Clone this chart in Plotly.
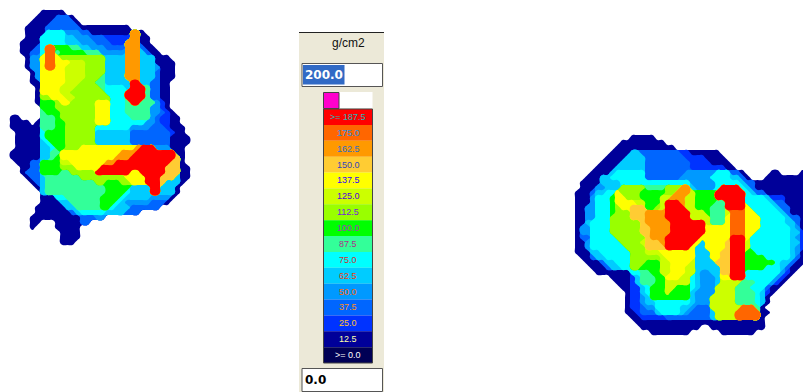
import numpy as np
import plotly.graph_objects as go

BAND_LABELS = [">= 187.5","175.0","162.5","150.0","137.5","125.0","112.5","100.0","87.5","75.0","62.5","50.0","37.5","25.0","12.5",">= 0.0"]
BAND_COLORS = ["#FF0000","#FF6600","#FF9900","#FFCC33","#FFFF00","#CCFF00","#99FF00","#00FF00","#33FF99","#00FFFF","#00CCFF","#0099FF","#0066FF","#0033FF","#000099","#000055"]
LABEL_COLORS = ["#22B8B8","#1E90E0","#2F6FC8","#3344BB","#3300FF","#5500DD","#7722DD","#AA33BB","#AA3388","#CC3333","#F04010","#FF6600","#FF8C22","#FFC030","#FFFFAA","#FFFFFF"]

# Each row: runs of sensor cells "first-last:band"; band 1 = 12.5 ... 15 = >=187.5, unlisted = no reading
LEFT_ROWS = [
"", "",
"8-12:1",
"7-10:1 11-13:3 14:1",
"6-9:1 10-14:3 15:1",
"5-8:1 9-15:3 16-25:1",
"5-8:1 9-12:6 13-15:4 16-17:3 18-25:1 26-27:13 28:1",
"5-7:1 8-12:6 13-14:5 15-17:4 18-20:3 21-25:2 26-27:13 28-29:1",
"4-7:1 8-12:6 13-15:5 16-18:4 19-21:3 22-24:2 25-27:13 28-29:1",
"4-6:1 7:3 8:6 9-10:14 11-13:8 14-15:7 16-17:5 18-20:4 21-24:3 25-27:13 28:3 29-30:1",
"4-5:1 6-7:3 8:6 9-10:14 11:7 12-16:8 17-19:7 20-24:4 25-27:13 28:5 29:3 30-31:1",
"5:1 6-7:4 8:11 9-10:14 11:11 12-20:9 21-24:5 25-27:13 28-30:5 31-33:1",
"5:1 6-7:4 8:11 9-10:14 11-13:11 14-16:10 17-20:9 21-24:5 25-27:13 28-30:5 31-34:1",
"5:1 6-7:4 8:11 9-10:14 11-12:11 13-16:10 17-20:9 21-24:5 25-27:13 28-30:5 31:4 32-34:1",
"6:1 7:4 8-12:11 13-16:10 17-20:9 21-24:5 25-27:13 28-30:5 31:3 32-34:1",
"6:1 7:4 8-12:11 13-16:10 17-19:9 20:7 21-24:5 25-27:13 28-30:5 31:3 32-34:1",
"6-7:1 8-12:11 13-15:10 16-18:9 19-20:7 21-24:5 25:5 26-27:15 28-29:5 30-31:3 32-33:1",
"7:1 8-11:11 12-14:10 15-19:9 20:7 21-24:6 25:5 26-28:15 29:7 30-31:3 32-33:1",
"7:1 8-11:11 12-13:10 14-20:9 21-24:6 25-28:15 29:7 30-31:3 32-33:1",
"7:1 8-9:9 10-12:11 13-14:10 15-21:9 22-24:6 25-28:15 29:7 30-31:3 32-33:1",
"7:1 8-10:8 11:9 12-13:11 14-18:9 19-21:11 22-24:6 25:7 26-27:15 28-30:7 31:4 32:2 33:1",
"8-10:8 11-18:9 19-21:11 22-24:6 25-29:7 30-31:4 32:2 33:1",
"8:7 9-11:8 12-18:9 19-21:11 22-24:6 25-29:7 30-31:4 32:3 33:2 34:1",
"2-3:1 8-10:7 11:8 12-18:9 19-21:11 22-25:6 26-29:7 30:4 31:3 32-33:2 34-35:1",
"2-5:1 7:1 8-10:7 11-12:8 13-18:9 19-21:11 22-28:6 29-30:4 31:3 32-33:2 34-35:1",
"2-7:1 8-10:7 11-12:8 13-18:9 19-25:6 26-29:4 30-32:3 33:2 34-36:1",
"3-7:1 8:6 9-12:8 13-18:9 19-25:5 26-33:3 34:2 35-36:1",
"3-7:1 8:6 9-12:8 13-18:9 19-25:5 26-33:3 34-37:1",
"3-7:1 8:5 9:6 10-12:8 13-18:9 19-25:5 26-33:3 34-37:1",
"3-7:1 8-9:5 10:6 11-12:8 13-15:9 16-26:11 27:13 28-30:15 31-33:4 34-36:1",
"2-7:1 8-9:5 10-11:7 12-23:11 24-26:13 27-34:15 35-36:1",
"2-7:1 8-9:5 10:7 11:8 12-22:11 23-25:13 26-34:15 35:12 36:1",
"3-5:1 6-7:3 8-11:8 12-13:10 14-20:11 21-22:13 23-33:15 34-35:12 36:1",
"4-5:1 6-7:3 8-11:8 12-14:9 15-19:11 20-32:15 33-35:12 36-37:1",
"4:1 5-7:3 8-11:8 12-13:7 14-18:9 19-25:15 26-27:11 28-32:15 33-35:12 36-37:1",
"5:1 6-7:3 8:5 9-15:7 16-24:9 25-28:11 29-31:15 32-34:12 35:5 36-37:1",
"6:1 7:3 8:5 9-18:7 19-20:9 21-23:8 24-25:9 26-28:11 29-31:15 32:12 33-35:5 36:1",
"7:1 8:5 9-20:7 21-25:8 26-29:5 30-31:15 32-34:5 35:1",
"8:5 9-20:7 21-24:8 25:6 26-29:5 30-31:15 32-34:5 35:1",
"8-10:1 11-12:6 13-19:7 20-23:8 24:6 25-29:5 30-33:4 34:1",
"8-11:1 12-13:5 14-19:7 20-22:8 23:6 24:5 25-29:4 30-32:3 33:1",
"7-12:1 13-14:5 15-19:7 20-21:8 22:6 23-25:5 26-31:3",
"7-13:1 14:3 15:5 16-20:6 21-24:5 25-27:3",
"6-15:1 16-18:3 19-20:4",
"6-7:1 11-15:1 16-17:3",
"6:1 11-15:1",
"12-15:1", "12-15:1", "12-14:1", "",
]
RIGHT_ROWS = [
"",
"13-17:1",
"11-19:1",
"10-21:1",
"9-12:1 13-14:5 15-22:3 23-24:2 25-30:1",
"8-11:1 12-15:5 16-23:3 24-27:2 28-31:1",
"7-10:1 11-15:5 16-24:3 25-28:2 29-32:1",
"6-9:1 10-15:5 16-24:3 25-31:2 32-33:1",
"5-8:1 9:5 10-15:6 16-23:3 24-29:4 30-32:6 33-34:3 35:1 41-42:1 47:1",
"4-6:1 7-8:5 9-15:6 16-22:3 23-28:4 29-32:6 33-34:5 35:3 36:1 40-44:1 45-47:1",
"3-6:1 7-10:5 11-24:6 25-29:4 30-34:6 35:5 36-37:3 38-47:1",
"3-5:1 6-7:4 8-10:5 11-15:9 16-19:7 20-22:9 23-24:13 25:5 26-29:4 30:6 31-34:15 35:6 36:5 37:3 38-47:1",
"2-4:1 5:3 6-7:5 8-9:6 10:11 11-14:9 15-19:8 20-21:9 22-24:13 25:10 26-29:8 30-35:15 36:6 37:5 38-39:3 40-47:1",
"2-4:1 5:4 6-8:6 9:8 10-11:11 12-14:9 15-18:8 19-20:10 21-23:13 24-25:10 26-29:8 30-35:15 36-39:6 40:5 41-43:2 44-47:1",
"2-4:1 5:4 6-8:6 9:8 10-13:11 14-15:10 16-18:8 19:10 20-22:15 23:13 24-25:10 26-29:8 30-31:7 32-35:15 36-40:6 41:5 42-43:3 44-47:1",
"2-3:1 4-5:4 6-8:6 9:8 10:9 11-12:11 13-15:12 16-17:8 18:9 19:10 20-23:15 24-25:10 26-28:8 29-31:7 32-35:15 36:11 37-41:6 42:5 43-44:3 45-47:1",
"2-3:1 4-5:4 6-8:6 9:8 10-12:9 13-15:12 16-19:13 20-24:15 25-27:10 28:8 29-31:7 32:10 33-35:14 36-37:11 38-42:6 43:5 44:3 45-47:1",
"2-3:1 4-5:4 6-8:6 9-12:9 13-15:12 16-19:13 20-24:15 25-28:10 29-31:7 32:11 33-35:14 36-38:11 39-43:6 44:5 45-46:3 47:1",
"2-3:1 4:5 5-8:6 9-14:9 15:12 16-20:13 21-27:15 28:10 29-31:7 32:11 33-35:14 36-38:11 39-43:6 44-45:5 46:3 47:1",
"2:1 3-4:4 5-8:6 9-14:9 15-16:12 17-20:13 21-27:15 28-32:11 33-35:14 36-38:11 39-44:6 45:5 46:4 47:1",
"2:1 3-4:4 5-8:6 9-14:9 15-16:12 17-20:13 21-27:15 28-32:11 33-35:14 36-37:11 38-44:6 45-46:5 47:2",
"2:1 3-4:3 5-9:6 10-15:9 16:12 17-19:13 20-26:15 27-32:11 33-35:15 36:11 37-44:6 45:5 46:4 47:2",
"2-3:1 4:4 5-10:6 11-14:9 15:10 16-18:12 19:13 20-25:15 26:11 27:5 28-31:11 32:12 33-35:15 36:10 37-44:6 45-46:5 47:2",
"2-3:1 4:4 5-11:6 12-15:9 16-19:12 20-24:15 25:11 26-27:5 28-31:11 32:12 33-35:15 36:10 37-44:6 45:5 46:4 47:2",
"2-4:1 5-6:5 7-12:6 13-15:9 16-18:10 19-25:11 26-28:5 29-30:11 31-32:12 33-35:15 36-37:8 38-44:6 45:5 46:4 47:1",
"3-4:1 5:3 6-7:5 8-12:6 13-18:9 19:10 20-25:11 26-28:5 29-30:11 31-32:12 33-35:15 36-39:8 40-44:6 45:5 46:3 47:1",
"4-6:1 7:3 8-9:5 10-12:6 13-15:9 16-18:8 19-20:10 21-24:11 25:10 26-29:5 30-32:12 33-35:15 36-41:8 42:6 43-44:5 45:3 46-47:1",
"5-7:1 8:3 9-10:5 11-12:6 13-14:9 15-18:8 19-20:10 21-23:11 24-25:10 26-30:5 31-32:12 33-35:15 36-39:8 40-42:6 43:5 44:3 45-46:1",
"6-12:1 13-14:6 15-16:7 17-18:8 19-20:10 21-23:11 24-25:10 26:5 27-28:4 29-30:5 31-32:12 33-35:15 36-42:6 43:4 44:2 45:1",
"9-12:1 13:2 14:5 15-17:7 18-19:8 20-22:11 23-24:10 25:6 26:5 27-29:4 30:5 31-32:11 33-35:15 36-41:6 42:4 43:2 44:1",
"10-12:1 13:2 14:5 15-17:7 18-19:8 20-24:10 25:6 26:5 27-29:4 30:5 31-34:10 35-37:7 38-40:6 41:4 42:2 43:1",
"11-12:1 13-14:2 15:5 16:6 17-19:8 20-21:10 22-24:8 25:6 26:5 27-29:4 30-33:10 34-36:7 37-39:6 40:3 41-42:1",
"12:1 13-14:2 15:5 16:6 17-19:8 20:10 21-24:8 25:5 26-29:4 30-33:10 34-37:7 38:6 39:5 40:2 41:1",
"12:1 13-14:2 15:4 16:5 17-19:8 20-24:8 25:5 26-28:4 29-33:10 34-37:7 38:6 39:5 40:1",
"12:1 13-14:2 15:4 16-17:5 18-24:6 25:5 26-28:4 29-33:10 34-37:7 38:6 39:5 40:1",
"12:1 13-14:2 15:3 16-17:4 18-22:6 23-24:5 25:4 26-28:3 29-34:10 35-37:14 38:7 39:1",
"12-13:1 14:2 15-17:3 18:5 19-22:6 23:5 24:4 25-28:3 29:5 30-33:10 34-38:14 39-40:1",
"13-14:1 15-19:2 20-28:3 29:5 30-33:10 34-38:14 39:1",
"14-39:1",
"15-26:1 29-39:1",
"17-24:1 31-37:1",
"",
]
LEFT_ORIGIN = (2.5, 2.5)
RIGHT_ORIGIN = (567.5, 132.5)
CELL = 5
INPUT_TOP = "200.0"
INPUT_BOTTOM = "0.0"
UNIT = "g/cm2"

PANEL = "#ECE9D8"
fig = go.Figure()

def expand(rows, ncols):
    a = np.zeros((len(rows), ncols))
    for r, row in enumerate(rows):
        for tok in row.split():
            span, band = tok.split(":")
            s, _, e = span.partition("-")
            a[r, int(s):int(e or s) + 1] = int(band)
    return a

def add_map(rows, ncols, origin):
    a = np.pad(expand(rows, ncols), 1)
    xs = origin[0] + CELL * np.arange(-1, a.shape[1] - 1)
    ys = origin[1] + CELL * np.arange(-1, a.shape[0] - 1)
    for k in range(1, 16):
        fig.add_trace(go.Contour(
            x=xs, y=ys, z=(a >= k).astype(float),
            contours=dict(type="constraint", operation="<", value=0.5),
            fillcolor=BAND_COLORS[15 - k], line=dict(width=0, smoothing=1.3),
            showscale=False, hoverinfo="skip"))

add_map(LEFT_ROWS, 40, LEFT_ORIGIN)
add_map(RIGHT_ROWS, 48, RIGHT_ORIGIN)

# legend swatches
top, bottom, left, right = 109.0, 363.0, 323.5, 372.5
h = (bottom - top) / len(BAND_COLORS)
centres = [top + h * (i + 0.5) for i in range(len(BAND_COLORS))]
fig.add_trace(go.Bar(y=centres, x=[right - left] * len(centres), base=left, width=h,
                     orientation="h", marker=dict(color=BAND_COLORS, line=dict(width=0)),
                     hoverinfo="skip", showlegend=False))

shapes = [
    dict(type="rect", x0=299, x1=384, y0=32, y1=392, fillcolor=PANEL, line=dict(width=0), layer="below"),
    dict(type="line", x0=299, x1=384, y0=32.5, y1=32.5, line=dict(color="#222", width=1), layer="below"),
    dict(type="rect", x0=302, x1=382.5, y0=63.5, y1=86.5, fillcolor="#FFF", line=dict(color="#555", width=1), layer="below"),
    dict(type="rect", x0=303, x1=344.5, y0=65, y1=84.5, fillcolor="#316AC5", line=dict(width=0), layer="below"),
    dict(type="rect", x0=302, x1=382.5, y0=368.5, y1=391.5, fillcolor="#FFF", line=dict(color="#555", width=1), layer="below"),
    dict(type="rect", x0=339, x1=372.5, y0=92, y1=108.5, fillcolor="#FFF", line=dict(width=0), layer="below"),
    dict(type="rect", x0=323.5, x1=339, y0=92.5, y1=108.5, fillcolor="#FF00CC", line=dict(color="#444", width=1), layer="below"),
    dict(type="rect", x0=left, x1=right, y0=top, y1=bottom, fillcolor="rgba(0,0,0,0)", line=dict(color="#444", width=1)),
]
ann = [dict(x=348, y=cy, text=t, showarrow=False, xanchor="center", yanchor="middle",
            font=dict(family="Liberation Sans", size=9, color=c))
       for t, c, cy in zip(BAND_LABELS, LABEL_COLORS, centres)]
ann += [
    dict(x=348.5, y=43, text=UNIT, showarrow=False, font=dict(family="Liberation Sans", size=12, color="#111")),
    dict(x=303, y=75, text="<b>%s</b>" % INPUT_TOP, showarrow=False, xanchor="left",
         font=dict(family="DejaVu Sans", size=12, color="#FFF")),
    dict(x=303, y=380, text="<b>%s</b>" % INPUT_BOTTOM, showarrow=False, xanchor="left",
         font=dict(family="DejaVu Sans", size=12, color="#000")),
]
fig.update_layout(
    width=803, height=392, margin=dict(l=0, r=0, t=0, b=0), showlegend=False,
    paper_bgcolor="#FFF", plot_bgcolor="rgba(0,0,0,0)", shapes=shapes, annotations=ann,
    xaxis=dict(range=[0, 803], visible=False, fixedrange=True),
    yaxis=dict(range=[392, 0], visible=False, fixedrange=True),
)
fig.write_html("out.html", config=dict(displayModeBar=False),
               post_script="document.body.style.margin='0';document.body.style.overflow='hidden';")
